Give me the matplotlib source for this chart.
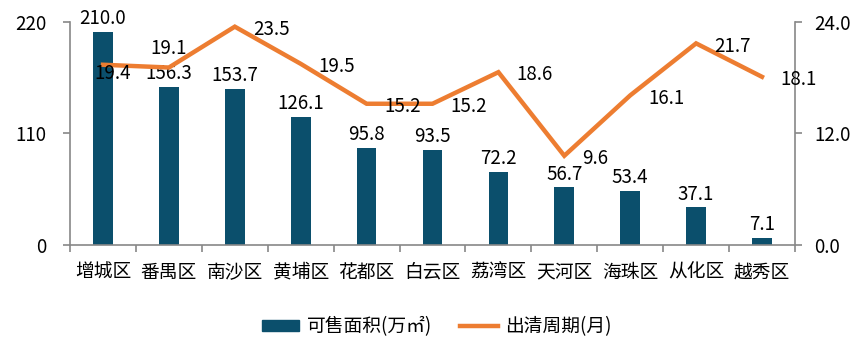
import numpy as np
import matplotlib.pyplot as plt
from matplotlib.lines import Line2D
from matplotlib.patches import Patch

plt.rcParams['font.family'] = ['Noto Sans CJK SC', 'DejaVu Sans']

# 数据
districts = ['增城区', '番禺区', '南沙区', '黄埔区', '花都区', '白云区',
             '荔湾区', '天河区', '海珠区', '从化区', '越秀区']
area = [210.0, 156.3, 153.7, 126.1, 95.8, 93.5, 72.2, 56.7, 53.4, 37.1, 7.1]
period = [19.4, 19.1, 23.5, 19.5, 15.2, 15.2, 18.6, 9.6, 16.1, 21.7, 18.1]

bar_color = '#0B4F6C'
line_color = '#ED7D31'
axis_color = '#888888'
fs = 13.5

fig = plt.figure(figsize=(8.65, 3.55), dpi=100)
ax = fig.add_axes([0.081, 0.31, 0.838, 0.628])
ax2 = ax.twinx()

x = np.arange(len(districts))
ax.bar(x, area, width=0.3, color=bar_color, zorder=2)
ax2.plot(x, period, color=line_color, lw=3.2, solid_joinstyle='miter', zorder=3)

ax.set_xlim(-0.5, len(districts) - 0.5)
ax.set_ylim(0, 220)
ax.set_yticks([0, 110, 220])
ax2.set_ylim(0, 24)
ax2.set_yticks([0, 12, 24])
ax2.set_yticklabels([f'{v:.1f}' for v in [0, 12, 24]])

ax.set_xticks(x)
ax.set_xticklabels(districts)
ax.set_xticks(np.arange(len(districts) + 1) - 0.5, minor=True)
ax.tick_params(axis='x', which='major', length=0, pad=12, labelsize=fs)
ax.tick_params(axis='x', which='minor', length=5, color=axis_color, width=1.2)
ax.tick_params(axis='y', length=5, color=axis_color, width=1.2, labelsize=fs, pad=12)
ax2.tick_params(axis='y', length=5, color=axis_color, width=1.2, labelsize=fs, pad=9)

for a in (ax, ax2):
    a.spines['top'].set_visible(False)
    for s in ('left', 'right', 'bottom'):
        a.spines[s].set_color(axis_color)
        a.spines[s].set_linewidth(1.2)
ax.spines['right'].set_visible(False)
ax2.spines['left'].set_visible(False)
ax2.spines['bottom'].set_visible(False)

# 柱状标签
for xi, v in zip(x, area):
    ax.annotate(f'{v:.1f}', (xi, v), xytext=(0, 2), textcoords='offset points',
                ha='center', va='bottom', fontsize=fs)

# 折线标签
offsets = {0: (-6, -6, 'left'), 1: (0, 14, 'center')}
for i, (xi, v) in enumerate(zip(x, period)):
    dx, dy, ha = offsets.get(i, (13, -2, 'left'))
    ax2.annotate(f'{v:.1f}', (xi, v), xytext=(dx, dy), textcoords='offset points',
                 ha=ha, va='center', fontsize=fs, zorder=4)

handles = [Patch(color=bar_color, label='可售面积(万㎡)'),
           Line2D([], [], color=line_color, lw=3.2, label='出清周期(月)')]
fig.legend(handles=handles, loc='center', bbox_to_anchor=(0.505, 0.08), ncol=2,
           frameon=False, fontsize=fs, handlelength=2.0, handleheight=0.6,
           columnspacing=1.5, handletextpad=0.4)

fig.savefig('out.png', dpi=100)
